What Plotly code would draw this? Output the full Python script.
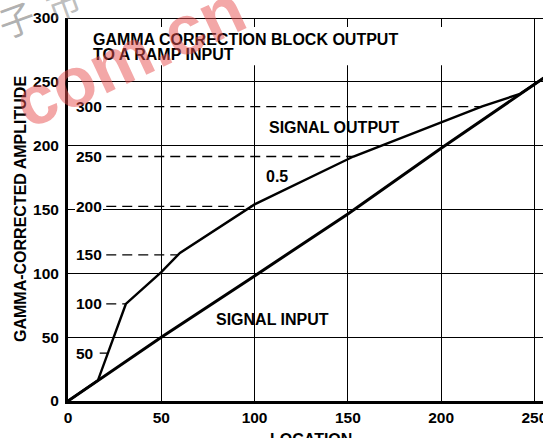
import numpy as np
import plotly.graph_objects as go

# Ramp input (location -> amplitude)
input_x = [0, 50, 100, 150, 200, 255]
input_y = [0, 50, 98, 146.5, 198, 253]

# Gamma-corrected output (gamma 0.5), merging with the ramp near the top
output_x = [0, 16, 31, 50, 60, 100, 153, 200, 222, 242.3, 255]
output_y = [0, 16, 76, 101, 116, 154, 191.5, 218.2, 230.7, 240.6, 253]

# Secondary scale marks drawn as dashed levels up to the output curve
level_y = [37.5, 76, 114.5, 152.5, 191.5, 230.6]
level_labels = ["50", "100", "150", "200", "250", "300"]

x_ticks = [0, 50, 100, 150, 200, 250]
y_ticks = [0, 50, 100, 150, 200, 250, 300]

X_MAX = 254.6
FONT = "Liberation Sans"
BLACK = "#000000"

fig = go.Figure()

# dashed level lines start after their label and end on the output curve
for lv, lab in zip(level_y, level_labels):
    x_start = 17.0 if len(lab) < 3 else 20.5
    x_end = float(np.interp(lv, output_y, output_x))
    fig.add_trace(go.Scatter(
        x=[x_start, x_end], y=[lv, lv], mode="lines",
        line=dict(color=BLACK, width=1.3, dash="10px,6px"),
        hoverinfo="skip", showlegend=False))

fig.add_trace(go.Scatter(
    x=output_x, y=output_y, mode="lines",
    line=dict(color=BLACK, width=2.4), showlegend=False))
fig.add_trace(go.Scatter(
    x=input_x, y=input_y, mode="lines",
    line=dict(color=BLACK, width=3), showlegend=False))

bold = dict(family=FONT, size=15.5, color=BLACK)
title_font = dict(family=FONT, size=16, color=BLACK)

# white panel behind the title text
fig.add_shape(type="rect", xref="x", yref="y", x0=1.5, x1=222, y0=263, y1=293,
              fillcolor="white", line=dict(width=0), layer="between")
# top border
fig.add_shape(type="line", xref="paper", yref="y", x0=0, x1=1, y0=300, y1=300,
              line=dict(color=BLACK, width=2), layer="above")

annotations = [
    dict(x=12.3, y=283, text="<b>GAMMA CORRECTION BLOCK OUTPUT</b>", xanchor="left",
         yanchor="middle", font=title_font),
    dict(x=12.3, y=271.3, text="<b>TO A RAMP INPUT</b>", xanchor="left",
         yanchor="middle", font=title_font),
    dict(x=143.1, y=214.5, text="<b>SIGNAL OUTPUT</b>", font=title_font),
    dict(x=112, y=175.8, text="<b>0.5</b>", font=title_font),
    dict(x=109.5, y=64, text="<b>SIGNAL INPUT</b>", font=title_font),
]
for lv, lab in zip(level_y, level_labels):
    annotations.append(dict(
        x=3.6, y=lv, text="<b>%s</b>" % lab, xanchor="left", yanchor="middle",
        font=bold, bgcolor="white", borderpad=1, borderwidth=0))

# axis titles
annotations.append(dict(xref="x", yref="paper", x=130, y=-0.074,
                        text="<b>LOCATION</b>", font=title_font, yanchor="top"))
annotations.append(dict(xref="paper", yref="y", x=-0.1, y=150, textangle=-90,
                        text="<b>GAMMA-CORRECTED AMPLITUDE</b>", font=title_font,
                        xanchor="center"))

for a in annotations:
    a.setdefault("xref", "x")
    a.setdefault("yref", "y")
    a.setdefault("showarrow", False)
fig.update_layout(annotations=annotations)

# watermark
fig.add_annotation(xref="paper", yref="paper", x=0.13, y=0.9, text="<b>com.cn</b>",
                   textangle=-25, showarrow=False, xanchor="center", yanchor="middle",
                   font=dict(family=FONT, size=70, color="rgba(232,80,80,0.5)"))
fig.add_annotation(xref="paper", yref="paper", x=-0.11, y=1.0, text="子",
                   textangle=-20, showarrow=False, xanchor="center", yanchor="middle",
                   font=dict(family="Noto Sans CJK SC", size=36,
                             color="rgba(110,110,110,0.55)"))
fig.add_annotation(xref="paper", yref="paper", x=-0.01, y=1.04, text="市",
                   textangle=-20, showarrow=False, xanchor="center", yanchor="middle",
                   font=dict(family="Noto Sans CJK SC", size=34,
                             color="rgba(110,110,110,0.45)"))

fig.update_layout(
    width=543, height=438,
    margin=dict(l=68, r=0, t=18.3, b=37, pad=0, autoexpand=False),
    paper_bgcolor="white", plot_bgcolor="white",
    showlegend=False,
    xaxis=dict(range=[0, X_MAX], tickvals=x_ticks,
               ticktext=["<b>%d</b>" % v for v in x_ticks],
               showgrid=True, gridcolor=BLACK, gridwidth=1.2, zeroline=False,
               showline=True, linecolor=BLACK, linewidth=3,
               ticks="", tickfont=bold, ticklabelstandoff=0,
               ticklabeloverflow="allow", automargin=False),
    yaxis=dict(range=[0, 300], tickvals=y_ticks,
               ticktext=["<b>%d</b>" % v for v in y_ticks],
               showgrid=True, gridcolor=BLACK, gridwidth=1.2, zeroline=False,
               showline=True, linecolor=BLACK, linewidth=3,
               ticks="", tickfont=bold, ticklabelstandoff=3,
               ticklabeloverflow="allow", automargin=False),
)

fig.write_html("out.html")
